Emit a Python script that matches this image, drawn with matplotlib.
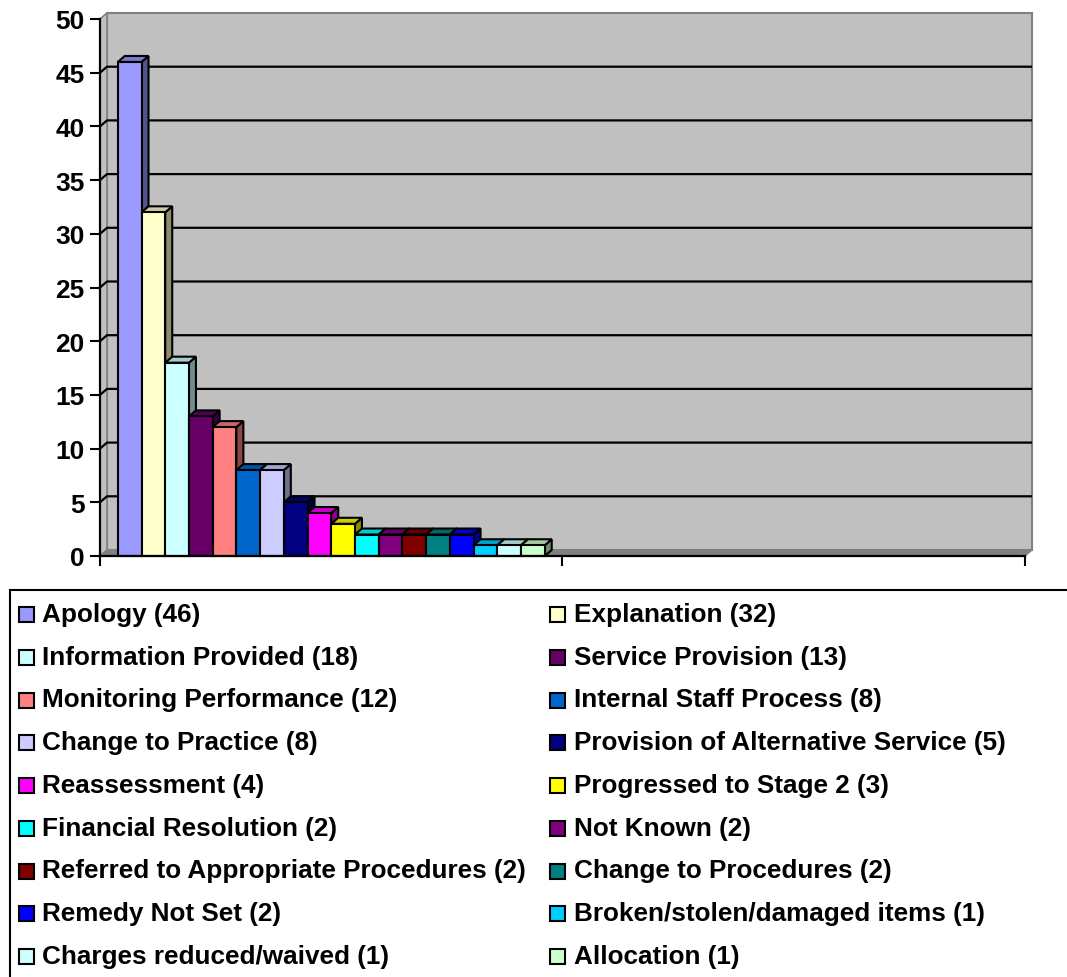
import matplotlib
matplotlib.use("Agg")
import matplotlib.pyplot as plt
from matplotlib.patches import Polygon, Rectangle
from matplotlib.colors import to_rgb

# Remedy outcomes and their counts
categories = [
    "Apology", "Explanation", "Information Provided", "Service Provision",
    "Monitoring Performance", "Internal Staff Process", "Change to Practice",
    "Provision of Alternative Service", "Reassessment", "Progressed to Stage 2",
    "Financial Resolution", "Not Known", "Referred to Appropriate Procedures",
    "Change to Procedures", "Remedy Not Set", "Broken/stolen/damaged items",
    "Charges reduced/waived", "Allocation",
]
values = [46, 32, 18, 13, 12, 8, 8, 5, 4, 3, 2, 2, 2, 2, 2, 1, 1, 1]
colors = [
    "#9999FF", "#FFFFCC", "#CCFFFF", "#660066", "#FF8080", "#0066CC",
    "#CCCCFF", "#000080", "#FF00FF", "#FFFF00", "#00FFFF", "#800080",
    "#800000", "#008080", "#0000FF", "#00CCFF", "#CCFFFF", "#CCFFCC",
]
y_ticks = list(range(0, 51, 5))

W, H, DPI = 1067, 978, 100
plt.rcParams["font.family"] = ["Liberation Sans", "DejaVu Sans"]
plt.rcParams["font.weight"] = "bold"

fig = plt.figure(figsize=(W / DPI, H / DPI), dpi=DPI)
fig.patch.set_facecolor("white")

# plot frame in pixels
ax_l, ax_r, ax_b, ax_t = 100, 1025, 557, 20
ax = fig.add_axes([ax_l / W, 1 - ax_b / H, (ax_r - ax_l) / W, (ax_b - ax_t) / H])
ax.patch.set_visible(False)

n = len(values)
gap = 0.75
slot = n + 2 * gap
x0 = -0.5 - gap
x1 = x0 + 2 * slot
ymax = 50
ax.set_xlim(x0, x1)
ax.set_ylim(0, ymax)

px_x = (ax_r - ax_l) / (x1 - x0)
px_y = (ax_b - ax_t) / ymax
dx = 7 / px_x
dy = 6 / px_y

def shade(c, f):
    r, g, b = to_rgb(c)
    return (r * f, g * f, b * f)

# back wall, side wall and floor
wall = Polygon([(x0 + dx, dy), (x1 + dx, dy), (x1 + dx, ymax + dy), (x0 + dx, ymax + dy)],
               closed=True, fc="#C0C0C0", ec="#808080", lw=1.5, clip_on=False, zorder=0)
side = Polygon([(x0, 0), (x0 + dx, dy), (x0 + dx, ymax + dy), (x0, ymax)],
               closed=True, fc="#C0C0C0", ec="#808080", lw=1.2, clip_on=False, zorder=0.1)
floor = Polygon([(x0, 0), (x1, 0), (x1 + dx, dy), (x0 + dx, dy)],
                closed=True, fc="#808080", ec="#808080", lw=1.0, clip_on=False, zorder=0.2)
for p in (wall, side, floor):
    ax.add_patch(p)

for v in y_ticks[1:-1]:
    ax.plot([x0, x0 + dx, x1 + dx], [v, v + dy, v + dy], color="black", lw=1.6,
            clip_on=False, zorder=0.5, solid_capstyle="butt")

# 3D-style columns
for i, (v, c) in enumerate(zip(values, colors)):
    left, right = i - 0.5, i + 0.5
    z = 3 + 3 * i
    top = Polygon([(left, v), (right, v), (right + dx, v + dy), (left + dx, v + dy)],
                  closed=True, fc=shade(c, 0.8), ec="black", lw=1.5, clip_on=False,
                  zorder=z, joinstyle="miter")
    sidef = Polygon([(right, 0), (right, v), (right + dx, v + dy), (right + dx, dy)],
                    closed=True, fc=shade(c, 0.55), ec="black", lw=1.5, clip_on=False,
                    zorder=z, joinstyle="miter")
    ax.add_patch(sidef)
    ax.add_patch(top)
    ax.bar(i, v, width=1.0, color=c, edgecolor="black", linewidth=1.5,
           zorder=z + 1, clip_on=False)

# axes styling
for s in ("top", "right"):
    ax.spines[s].set_visible(False)
for s in ("left", "bottom"):
    ax.spines[s].set_color("black")
    ax.spines[s].set_linewidth(1.6)
    ax.spines[s].set_zorder(200)

ax.set_yticks(y_ticks)
ax.set_yticklabels([str(t) for t in y_ticks])
ax.set_xticks([x0, x0 + slot, x1])
ax.set_xticklabels([])
ax.tick_params(axis="y", direction="out", length=7, width=1.5, labelsize=19, pad=4,
               colors="black")
ax.tick_params(axis="x", direction="out", length=7, width=1.5)
for lab in ax.get_yticklabels():
    lab.set_fontweight("bold")

# legend box and entries
fig.patches.append(Rectangle((10 / W, -0.1), 1.2, (1 - 591 / H) + 0.1,
                             transform=fig.transFigure, fill=False, ec="black", lw=1.5))
col_marker_x = [19, 550]
col_text_x = [42, 574]
row_step = 42.75
msize = 15
for k, (cat, v, c) in enumerate(zip(categories, values, colors)):
    r, col = divmod(k, 2)
    mtop = 608 + row_step * r
    base = 622 + row_step * r
    fig.patches.append(Rectangle((col_marker_x[col] / W, 1 - (mtop + msize) / H),
                                 msize / W, msize / H, transform=fig.transFigure,
                                 fc=c, ec="black", lw=1.5))
    fig.text(col_text_x[col] / W, 1 - base / H, f"{cat} ({v})", fontsize=18.8,
             fontweight="bold", va="baseline", ha="left")

fig.savefig("out.png", dpi=DPI)
